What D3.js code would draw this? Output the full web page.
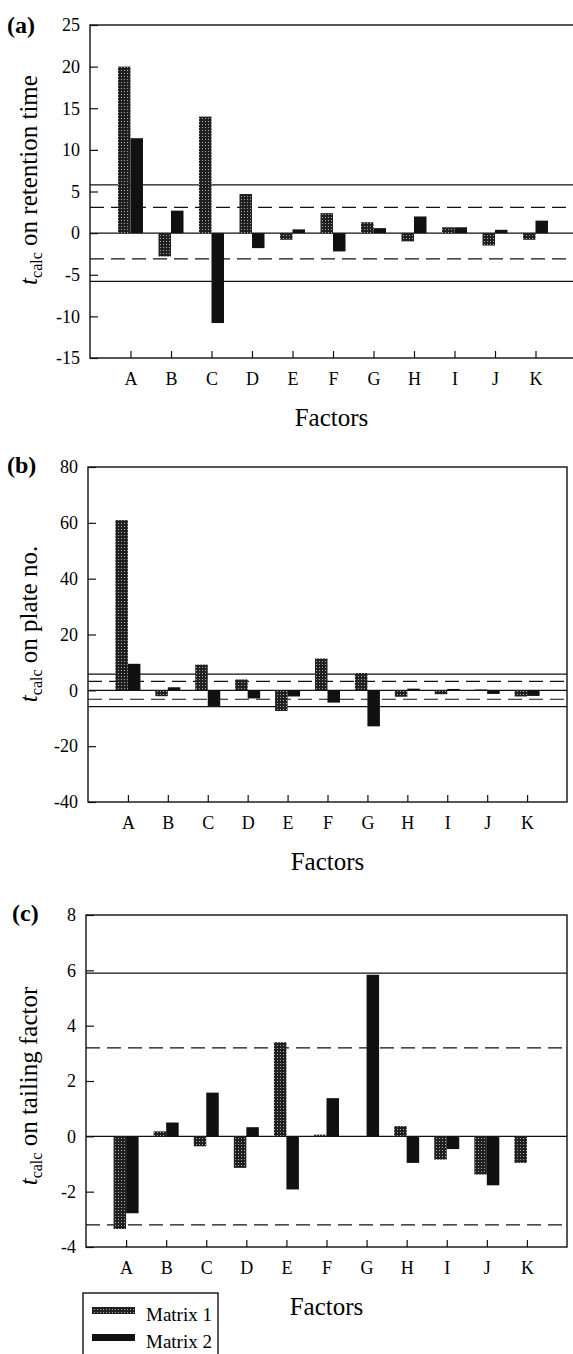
<!DOCTYPE html>
<html>
<head>
<meta charset="utf-8">
<title>t calc on retention time, plate no. and tailing factor</title>
<script src="https://d3js.org/d3.v7.min.js"></script>
<style>
  body { margin: 0; background: #fff; }
  svg { display: block; }
  text { font-family: "Liberation Serif", "Times New Roman", serif; fill: #000; }
  .axis path { display: none; }
  .axis line { stroke: #111; stroke-width: 1.2px; }
  .axis text { font-size: 18px; }
  .frame { fill: none; stroke: #111; stroke-width: 1.4px; }
  .zero, .crit { stroke: #111; stroke-width: 1.2px; }
  .dash { stroke-dasharray: 14, 7; }
</style>
</head>
<body>
<script>
var factors = ["A", "B", "C", "D", "E", "F", "G", "H", "I", "J", "K"];

// (a) retention time
var rtMatrix1 = [20, -2.8, 14, 4.7, -0.8, 2.4, 1.3, -1.0, 0.7, -1.5, -0.8];
var rtMatrix2 = [11.4, 2.7, -10.8, -1.8, 0.45, -2.2, 0.6, 2.0, 0.7, 0.4, 1.5];
var rtTicks = [25, 20, 15, 10, 5, 0, -5, -10, -15];
var rtDashed = 3.1, rtSolid = 5.8;

// (b) plate number
var plateMatrix1 = [61, -2.1, 9.2, 3.9, -7.4, 11.4, 6.2, -2.3, -1.4, 0.3, -2.2];
var plateMatrix2 = [9.5, 1.1, -5.6, -2.9, -2.2, -4.4, -12.9, 0.6, 0.5, -1.3, -2.0];
var plateTicks = [80, 60, 40, 20, 0, -20, -40];
var plateDashed = 3.2, plateSolid = 5.8;

// (c) tailing factor
var tailMatrix1 = [-3.35, 0.18, -0.36, -1.14, 3.4, 0.06, 0, 0.37, -0.84, -1.38, -0.96];
var tailMatrix2 = [-2.78, 0.5, 1.58, 0.33, -1.92, 1.38, 5.84, -0.96, -0.46, -1.77, 0];
var tailTicks = [8, 6, 4, 2, 0, -2, -4];
var tailDashed = 3.2, tailSolid = 5.9;

var W = 573, H = 1354;
var svg = d3.select("body").append("svg").attr("width", W).attr("height", H);

// dotted fill for Matrix 1
var defs = svg.append("defs");
var pat = defs.append("pattern").attr("id", "dots")
  .attr("patternUnits", "userSpaceOnUse").attr("width", 3).attr("height", 3);
pat.append("rect").attr("width", 3).attr("height", 3).attr("fill", "#202020");
pat.append("rect").attr("x", 1).attr("y", 1).attr("width", 1).attr("height", 1).attr("fill", "#a8a8a8");

var panels = [
  { tag: "(a)", tagX: 7, tagY: 33, left: 90, right: 576, top: 25, bottom: 358,
    m1: rtMatrix1, m2: rtMatrix2, ticks: rtTicks, dashed: rtDashed, solid: rtSolid,
    title: " on retention time", titleY: 180 },
  { tag: "(b)", tagX: 7, tagY: 473, left: 88, right: 567, top: 467, bottom: 802,
    m1: plateMatrix1, m2: plateMatrix2, ticks: plateTicks, dashed: plateDashed, solid: plateSolid,
    title: " on plate no.", titleY: 624 },
  { tag: "(c)", tagX: 12, tagY: 921, left: 86, right: 567, top: 915, bottom: 1247,
    m1: tailMatrix1, m2: tailMatrix2, ticks: tailTicks, dashed: tailDashed, solid: tailSolid,
    title: " on tailing factor", titleY: 1086 }
];

var bw = 12.5;

panels.forEach(function (p) {
  var g = svg.append("g");
  var ext = d3.extent(p.ticks);
  var y = d3.scaleLinear().domain(ext).range([p.bottom, p.top]);
  var x = d3.scaleLinear().domain([0, factors.length + 1]).range([p.left, p.right]);

  // threshold lines
  [p.solid, -p.solid].forEach(function (v) {
    if (v > ext[0] && v < ext[1])
      g.append("line").attr("class", "crit").attr("x1", p.left).attr("x2", p.right)
        .attr("y1", y(v)).attr("y2", y(v));
  });
  [p.dashed, -p.dashed].forEach(function (v) {
    g.append("line").attr("class", "crit dash").attr("x1", p.left).attr("x2", p.right)
      .attr("y1", y(v)).attr("y2", y(v));
  });
  g.append("line").attr("class", "zero").attr("x1", p.left).attr("x2", p.right)
    .attr("y1", y(0)).attr("y2", y(0));

  // bars
  g.selectAll("rect.m1").data(p.m1).enter().append("rect").attr("class", "m1")
    .attr("x", function (d, i) { return x(i + 1) - bw; })
    .attr("y", function (d) { return y(Math.max(0, d)); })
    .attr("width", bw)
    .attr("height", function (d) { return Math.abs(y(d) - y(0)); })
    .attr("fill", "url(#dots)");
  g.selectAll("rect.m2").data(p.m2).enter().append("rect").attr("class", "m2")
    .attr("x", function (d, i) { return x(i + 1); })
    .attr("y", function (d) { return y(Math.max(0, d)); })
    .attr("width", bw)
    .attr("height", function (d) { return Math.abs(y(d) - y(0)); })
    .attr("fill", "#111");

  // axes, ticks pointing inwards
  g.append("g").attr("class", "axis").attr("transform", "translate(" + p.left + ",0)")
    .call(d3.axisLeft(y).tickValues(p.ticks).tickSize(-8).tickPadding(10)
      .tickFormat(function (d) { return String(d); }));
  g.append("g").attr("class", "axis").attr("transform", "translate(0," + p.bottom + ")")
    .call(d3.axisBottom(x).tickValues(d3.range(1, factors.length + 1))
      .tickFormat(function (i) { return factors[i - 1]; })
      .tickSize(-7).tickPadding(14));

  g.append("rect").attr("class", "frame")
    .attr("x", p.left).attr("y", p.top)
    .attr("width", p.right - p.left).attr("height", p.bottom - p.top);

  // labels
  g.append("text").attr("x", p.tagX).attr("y", p.tagY)
    .style("font-size", "24px").style("font-weight", "bold").text(p.tag);

  g.append("text").attr("x", (p.left + Math.min(p.right, W)) / 2).attr("y", p.bottom + 68)
    .attr("text-anchor", "middle").style("font-size", "25px").text("Factors");

  var t = g.append("text").attr("text-anchor", "middle")
    .attr("transform", "translate(37," + p.titleY + ") rotate(-90)")
    .style("font-size", "25px");
  t.append("tspan").style("font-style", "italic").text("t");
  t.append("tspan").attr("dy", 5).style("font-size", "16px").text("calc");
  t.append("tspan").attr("dy", -5).text(p.title);
});

// legend
var lg = svg.append("g");
lg.append("rect").attr("class", "frame").attr("x", 83).attr("y", 1293)
  .attr("width", 135).attr("height", 70);
var legendItems = ["Matrix 1", "Matrix 2"];
legendItems.forEach(function (name, i) {
  lg.append("rect").attr("x", 92).attr("y", 1307 + i * 27).attr("width", 43).attr("height", 7)
    .attr("fill", i === 0 ? "url(#dots)" : "#111");
  lg.append("text").attr("x", 146).attr("y", 1321 + i * 27).style("font-size", "19px").text(name);
});
</script>
</body>
</html>
